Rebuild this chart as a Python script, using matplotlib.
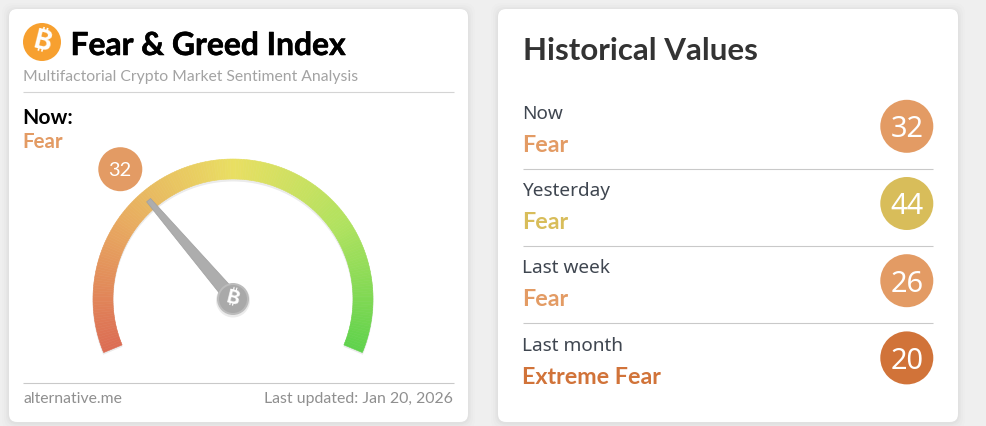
import matplotlib
matplotlib.use('Agg')
import matplotlib.pyplot as plt
import matplotlib.patheffects as pe
import numpy as np
from matplotlib.colors import LinearSegmentedColormap
from matplotlib.patches import Circle, FancyBboxPatch, Polygon, Wedge

# values
gauge_value = 32
gauge_state = 'Fear'
row_labels = ['Now', 'Yesterday', 'Last week', 'Last month']
row_states = ['Fear', 'Fear', 'Fear', 'Extreme Fear']
row_values = [32, 44, 26, 20]
row_colors = ['#e39b64', '#d8bd5a', '#e39b64', '#d17339']
gauge_stops = [0.0, 0.25, 0.5, 0.75, 1.0]
gauge_colors = ['#dc6d54', '#e8aa60', '#e9df62', '#b0e25f', '#5fd24c']

LEFT_FONT = ['Lato', 'DejaVu Sans']
RIGHT_FONT = ['Noto Sans', 'DejaVu Sans']
COIN_FONT = ['Inter', 'Roboto', 'Open Sans', 'Noto Sans', 'Lato', 'DejaVu Sans']


def px(size):
    return size * 0.72


def card(ax, x0, y0, x1, y1):
    for grow, alpha in [(7, 0.006), (5, 0.01), (3, 0.015), (1.5, 0.02)]:
        ax.add_patch(FancyBboxPatch((x0 - grow, y0 - grow + 1), x1 - x0 + 2 * grow, y1 - y0 + 2 * grow,
                                    boxstyle='round,pad=0,rounding_size=10', fc='k', ec='none', alpha=alpha))
    ax.add_patch(FancyBboxPatch((x0, y0), x1 - x0, y1 - y0, boxstyle='round,pad=0,rounding_size=8',
                                fc='white', ec='none'))


def coin(ax, x, y, r, color, size):
    ax.add_patch(Circle((x, y), r, fc=color, ec='none', zorder=5))
    ax.text(x, y, '\u20bf', color='white', fontsize=px(size), fontweight='bold', rotation=-14,
            ha='center', va='center', family=COIN_FONT, zorder=6)


fig = plt.figure(figsize=(9.87, 4.26), dpi=100, facecolor='#efefef')
ax = fig.add_axes([0, 0, 1, 1])
ax.set_xlim(0, 987)
ax.set_ylim(426, 0)
ax.axis('off')

card(ax, 9, 9, 468, 422)
card(ax, 498, 9, 958, 422)

# left card header
coin(ax, 42, 42, 19, '#f7a02f', 27)
title = ax.text(70.5, 55, 'Fear & Greed Index', fontsize=px(31.8), fontweight='bold', family=LEFT_FONT, color='black')
title.set_path_effects([pe.withStroke(linewidth=0.4, foreground='black')])
ax.text(23, 81, 'Multifactorial Crypto Market Sentiment Analysis', fontsize=px(15.7), family=LEFT_FONT, color='#a3a3a3')
ax.plot([23, 454], [91.5, 91.5], color='#d4d4d4', lw=0.8, solid_capstyle='butt')
ax.text(22.5, 124, 'Now:', fontsize=px(21), fontweight='bold', family=LEFT_FONT, color='black')
ax.text(22.5, 147.5, gauge_state, fontsize=px(20.5), fontweight='bold', family=LEFT_FONT, color=row_colors[0])

# gauge, 0 to 100 runs over 225 degrees
cx, cy = 233, 299
r_out, r_in = 140, 120
start, sweep = 202.5, 225.0
cmap = LinearSegmentedColormap.from_list('gauge', list(zip(gauge_stops, gauge_colors)))


def value_angle(v):
    return start - sweep * v / 100.0


ax.add_patch(Wedge((cx, cy + 2), r_out + 0.5, -start, -(start - sweep), width=r_out - r_in + 1,
                   fc='#000000', ec='none', alpha=0.08))
for v in np.arange(0, 100, 0.5):
    a0, a1 = value_angle(v), value_angle(v + 0.5)
    c = cmap(v / 100.0)
    ax.add_patch(Wedge((cx, cy), r_out, -a0, -a1, width=r_out - r_in, fc=c, ec=c, lw=0.4))

ang = np.radians(value_angle(gauge_value))
ux, uy = np.cos(ang), -np.sin(ang)
nx, ny = -uy, ux
tip = (cx + 130 * ux, cy + 130 * uy)
ax.add_patch(Polygon([(tip[0] + 2.6 * nx, tip[1] + 2.6 * ny), (tip[0] - 2.6 * nx, tip[1] - 2.6 * ny),
                      (cx - 7 * nx, cy - 7 * ny), (cx + 7 * nx, cy + 7 * ny)],
                     fc='#adadad', ec='#a0a0a0', lw=0.5, zorder=4))
ax.add_patch(Circle((cx, cy + 1.5), 17, fc='k', ec='none', alpha=0.08, zorder=4))
ax.add_patch(Circle((cx, cy), 16, fc='#bcbcbc', ec='none', zorder=4))
coin(ax, cx, cy, 14, '#a9a9a9', 20)

# badge sits just outside the arc at the needle angle
bx, by = cx + 172 * ux - 1, cy + 172 * uy + 1
ax.add_patch(Circle((bx, by), 22, fc=row_colors[0], ec='none'))
ax.text(bx, by, str(gauge_value), color='white', fontsize=px(20), family=LEFT_FONT, ha='center', va='center_baseline')

# left card footer
ax.plot([23, 454], [382.5, 382.5], color='#c9c9c9', lw=0.8, solid_capstyle='butt')
ax.text(23.5, 403, 'alternative.me', fontsize=px(15.8), family=LEFT_FONT, color='#8f8f8f')
ax.text(453, 403, 'Last updated: Jan 20, 2026', fontsize=px(15.9), family=LEFT_FONT, color='#8f8f8f', ha='right')

# right card, Lato bold for the heavy lines since Noto Sans has no bold here
ax.text(523, 60, 'Historical Values', fontsize=px(31.3), fontweight='bold', family=LEFT_FONT, color='#333333')
row_gap = 77.2
for i, (label, state, value, color) in enumerate(zip(row_labels, row_states, row_values, row_colors)):
    y = i * row_gap
    ax.text(522.5, 119 + y, label, fontsize=px(19), family=RIGHT_FONT, color='#3f4650')
    ax.text(522.5, 152 + y, state, fontsize=px(23.2), fontweight='bold', family=LEFT_FONT, color=color)
    ax.add_patch(Circle((906.8, 126.3 + y), 26.5, fc=color, ec='none'))
    ax.text(906.8, 126.3 + y, str(value), color='white', fontsize=px(29), family=RIGHT_FONT,
            ha='center', va='center_baseline')
    if i < len(row_labels) - 1:
        ax.plot([523, 933], [168.5 + y, 168.5 + y], color='#c9c9c9', lw=0.8, solid_capstyle='butt')

fig.savefig('out.png', dpi=100, facecolor=fig.get_facecolor())
